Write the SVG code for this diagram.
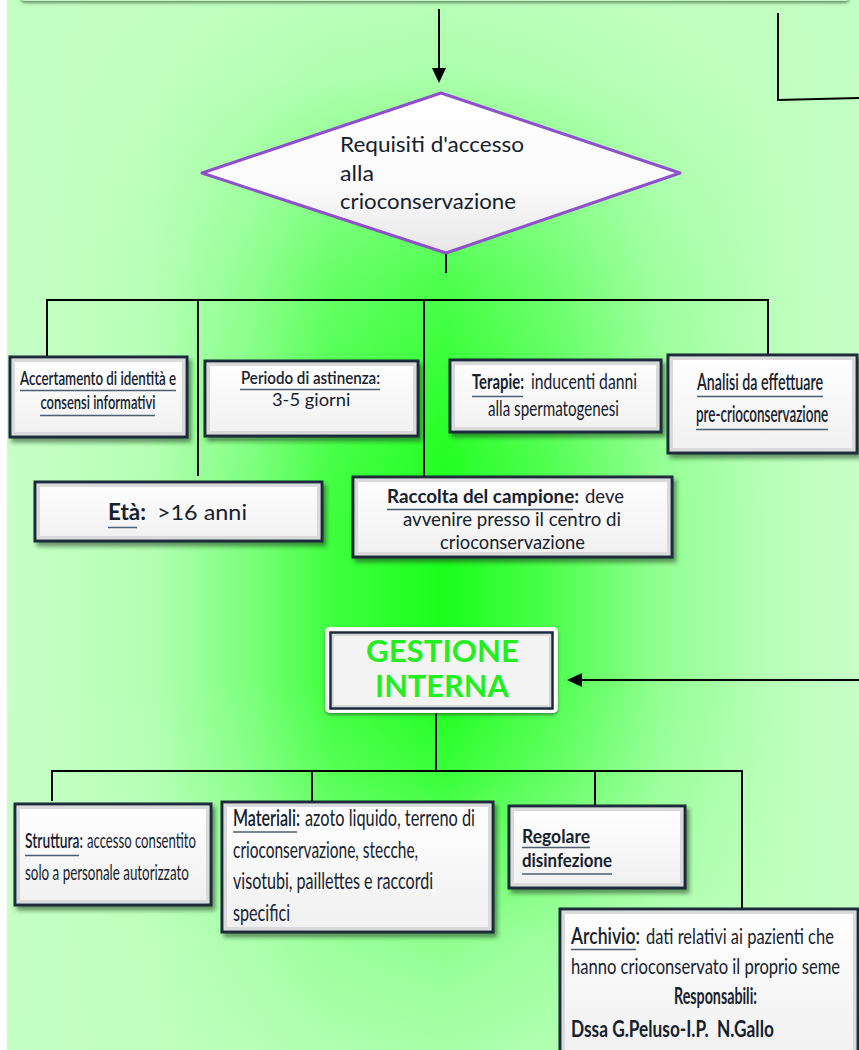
<svg xmlns="http://www.w3.org/2000/svg" width="859" height="1050" viewBox="0 0 859 1050">
<defs>
  <linearGradient id="hg" gradientUnits="userSpaceOnUse" x1="7" y1="0" x2="859" y2="0">
    <stop offset="0" stop-color="#c8ffc8"/>
    <stop offset="0.168" stop-color="#b4ffb4"/>
    <stop offset="0.285" stop-color="#7cff7c"/>
    <stop offset="0.379" stop-color="#40ff40"/>
    <stop offset="0.514" stop-color="#1aff1a"/>
    <stop offset="0.637" stop-color="#4cff4c"/>
    <stop offset="0.766" stop-color="#92ff92"/>
    <stop offset="0.896" stop-color="#b8ffb8"/>
    <stop offset="1" stop-color="#c8ffc8"/>
  </linearGradient>
  <linearGradient id="vg" gradientUnits="userSpaceOnUse" x1="0" y1="0" x2="0" y2="1050">
    <stop offset="0" stop-color="#c2ffc2" stop-opacity="0.95"/>
    <stop offset="0.076" stop-color="#c2ffc2" stop-opacity="0.85"/>
    <stop offset="0.171" stop-color="#c2ffc2" stop-opacity="0.55"/>
    <stop offset="0.267" stop-color="#c2ffc2" stop-opacity="0.3"/>
    <stop offset="0.4" stop-color="#c2ffc2" stop-opacity="0.1"/>
    <stop offset="0.495" stop-color="#c2ffc2" stop-opacity="0"/>
    <stop offset="0.648" stop-color="#c2ffc2" stop-opacity="0"/>
    <stop offset="0.743" stop-color="#c2ffc2" stop-opacity="0.2"/>
    <stop offset="0.895" stop-color="#c2ffc2" stop-opacity="0.7"/>
    <stop offset="1" stop-color="#c2ffc2" stop-opacity="0.85"/>
  </linearGradient>
  <linearGradient id="boxfill" x1="0" y1="0" x2="0" y2="1">
    <stop offset="0" stop-color="#ffffff"/>
    <stop offset="1" stop-color="#f0f0f0"/>
  </linearGradient>
  <linearGradient id="dfill" x1="0" y1="0" x2="0" y2="1">
    <stop offset="0" stop-color="#ffffff"/>
    <stop offset="0.6" stop-color="#fafafa"/>
    <stop offset="1" stop-color="#e6e6e6"/>
  </linearGradient>
  <filter id="sh" x="-10%" y="-10%" width="130%" height="140%">
    <feDropShadow dx="3" dy="4" stdDeviation="2" flood-color="#1d3a1d" flood-opacity="0.55"/>
  </filter>
  <filter id="sh2" x="-5%" y="-50%" width="110%" height="200%">
    <feDropShadow dx="0" dy="2" stdDeviation="1.5" flood-color="#2d4a2d" flood-opacity="0.6"/>
  </filter>
  <marker id="ah" viewBox="0 0 15 14" refX="12" refY="7" markerWidth="15" markerHeight="14" markerUnits="userSpaceOnUse" orient="auto">
    <path d="M0,0 L15,7 L0,14 z" fill="#000"/>
  </marker>
</defs>
<style>
  .box{fill:url(#boxfill);stroke:#1b2a3a;stroke-width:3;filter:url(#sh)}
  .bev{fill:none;stroke:#dadada;stroke-width:3}
  .t{font-family:Lato,'Liberation Sans',sans-serif;fill:#16212e}
  .b{font-weight:bold}
  .m{font-weight:600}
  .ul{stroke:#4b5e72;stroke-width:1.5}
  .c{fill:none;stroke:#000;stroke-width:2}
</style>

<rect x="0" y="0" width="859" height="1050" fill="#ffffff"/>
<rect x="7" y="0" width="852" height="1050" fill="url(#hg)"/>
<rect x="7" y="0" width="852" height="1050" fill="url(#vg)"/>

<g id="top-box">
  <rect x="21" y="-40" width="828" height="41" rx="4" fill="#c4f6c4" filter="url(#sh2)"/>
</g>

<g id="connectors">
  <line class="c" x1="439" y1="9" x2="439" y2="80" marker-end="url(#ah)"/>
  <polyline class="c" points="778,13 778,100 859,98"/>
  <line class="c" x1="446" y1="230" x2="446" y2="273"/>
  <polyline class="c" points="47,356 47,300 768,300 768,354"/>
  <line class="c" x1="198" y1="300" x2="198" y2="476"/>
  <line class="c" x1="424" y1="300" x2="424" y2="477"/>
  <line class="c" x1="859" y1="680" x2="570" y2="680" marker-end="url(#ah)"/>
  <line class="c" x1="436" y1="713" x2="436" y2="771"/>
  <polyline class="c" points="52,801 52,771 742,771 742,908"/>
  <line class="c" x1="312" y1="771" x2="312" y2="802"/>
  <line class="c" x1="595" y1="771" x2="595" y2="806"/>
</g>

<g id="requisiti">
  <polygon points="202,173 441,93 680,173 446,253" fill="url(#dfill)" stroke="#9050cc" stroke-width="3" stroke-linejoin="round"/>
  <text class="t" font-size="22" x="340" y="152" textLength="184" lengthAdjust="spacingAndGlyphs">Requisiti d'accesso</text>
  <text class="t" font-size="22" x="340" y="181" textLength="34" lengthAdjust="spacingAndGlyphs">alla</text>
  <text class="t" font-size="22" x="340" y="209" textLength="176" lengthAdjust="spacingAndGlyphs">crioconservazione</text>
</g>

<g id="accertamento">
  <rect class="box" x="10" y="357" width="177" height="80"/>
  <rect class="bev" x="13.5" y="360.5" width="170" height="73"/>
  <text class="t m" font-size="19" transform="translate(20 385) scale(0.632 1)" textLength="247" lengthAdjust="spacingAndGlyphs">Accertamento di identità e</text>
  <text class="t m" font-size="19" transform="translate(40.5 409) scale(0.605 1)" textLength="190" lengthAdjust="spacingAndGlyphs">consensi informativi</text>
  <line class="ul" x1="20" y1="390.5" x2="176" y2="390.5"/>
  <line class="ul" x1="40" y1="415.5" x2="155" y2="415.5"/>
</g>

<g id="periodo">
  <rect class="box" x="205" y="361" width="213" height="75"/>
  <rect class="bev" x="208.5" y="364.5" width="206" height="68"/>
  <text class="t m" font-size="17" transform="translate(241 384) scale(0.779 1)" textLength="178.5" lengthAdjust="spacingAndGlyphs">Periodo di astinenza:</text>
  <text class="t" font-size="17" transform="translate(272 406) scale(0.96 1)" textLength="81.6" lengthAdjust="spacingAndGlyphs">3-5 giorni</text>
  <line class="ul" x1="240" y1="389.5" x2="380" y2="389.5"/>
</g>

<g id="terapie">
  <rect class="box" x="450" y="360" width="211" height="72"/>
  <rect class="bev" x="453.5" y="363.5" width="204" height="65"/>
  <text class="t b" font-size="21" transform="translate(472 389) scale(0.584 1)" textLength="89" lengthAdjust="spacingAndGlyphs">Terapie:</text>
  <text class="t" font-size="21" transform="translate(531 389) scale(0.702 1)" textLength="151" lengthAdjust="spacingAndGlyphs">inducenti danni</text>
  <text class="t" font-size="21" transform="translate(488 416) scale(0.684 1)" textLength="191.5" lengthAdjust="spacingAndGlyphs">alla spermatogenesi</text>
  <line class="ul" x1="472" y1="396.5" x2="523" y2="396.5"/>
</g>

<g id="analisi">
  <rect class="box" x="668" y="355" width="189" height="98"/>
  <rect class="bev" x="671.5" y="358.5" width="182" height="91"/>
  <text class="t m" font-size="23" transform="translate(697 390) scale(0.522 1)" textLength="241.5" lengthAdjust="spacingAndGlyphs">Analisi da effettuare</text>
  <text class="t m" font-size="23" transform="translate(696 422) scale(0.547 1)" textLength="241.5" lengthAdjust="spacingAndGlyphs">pre-crioconservazione</text>
  <line class="ul" x1="697" y1="396.5" x2="823" y2="396.5"/>
  <line class="ul" x1="696" y1="429.5" x2="828" y2="429.5"/>
</g>

<g id="eta">
  <rect class="box" x="35" y="482" width="287" height="59"/>
  <rect class="bev" x="38.5" y="485.5" width="280" height="52"/>
  <text class="t b" font-size="22" transform="translate(108 520) scale(0.815 1)" textLength="46.6" lengthAdjust="spacingAndGlyphs">Età:</text>
  <text class="t" font-size="22" x="157" y="520" textLength="90" lengthAdjust="spacingAndGlyphs">&gt;16 anni</text>
  <line class="ul" x1="108" y1="527.5" x2="137" y2="527.5"/>
</g>

<g id="raccolta">
  <rect class="box" x="353" y="477" width="319" height="80"/>
  <rect class="bev" x="356.5" y="480.5" width="312" height="73"/>
  <text class="t b" font-size="19" transform="translate(387 503) scale(0.867 1)" textLength="221.5" lengthAdjust="spacingAndGlyphs">Raccolta del campione:</text>
  <text class="t" font-size="19" x="585" y="503" textLength="39" lengthAdjust="spacingAndGlyphs">deve</text>
  <text class="t" font-size="19" transform="translate(403 526) scale(0.855 1)" textLength="255" lengthAdjust="spacingAndGlyphs">avvenire presso il centro di</text>
  <text class="t" font-size="19" transform="translate(440 549) scale(0.935 1)" textLength="155" lengthAdjust="spacingAndGlyphs">crioconservazione</text>
  <line class="ul" x1="387" y1="509.5" x2="573" y2="509.5"/>
</g>

<g id="gestione">
  <rect x="325" y="627" width="233" height="86" rx="5" fill="#ffffff" filter="url(#sh2)"/>
  <rect x="330.5" y="632.5" width="222" height="76" fill="#f4f4f4" stroke="#1b2a3a" stroke-width="2.5"/>
  <rect x="333" y="635" width="217" height="71" fill="none" stroke="#d8d8d8" stroke-width="2"/>
  <text font-family="Lato,'Liberation Sans',sans-serif" font-weight="bold" font-size="30" fill="#22ee22" x="366" y="662" textLength="153" lengthAdjust="spacingAndGlyphs">GESTIONE</text>
  <text font-family="Lato,'Liberation Sans',sans-serif" font-weight="bold" font-size="30" fill="#22ee22" x="375" y="697" textLength="134" lengthAdjust="spacingAndGlyphs">INTERNA</text>
</g>

<g id="struttura">
  <rect class="box" x="15" y="804" width="196" height="101"/>
  <rect class="bev" x="18.5" y="807.5" width="189" height="94"/>
  <text class="t m" font-size="21" transform="translate(25 848) scale(0.552 1)" textLength="105" lengthAdjust="spacingAndGlyphs">Struttura:</text>
  <text class="t" font-size="21" transform="translate(87 848) scale(0.602 1)" textLength="181" lengthAdjust="spacingAndGlyphs">accesso consentito</text>
  <text class="t" font-size="21" transform="translate(25 880) scale(0.581 1)" textLength="282" lengthAdjust="spacingAndGlyphs">solo a personale autorizzato</text>
  <line class="ul" x1="25" y1="855.5" x2="79" y2="855.5"/>
</g>

<g id="materiali">
  <rect class="box" x="222" y="802" width="271" height="130"/>
  <rect class="bev" x="225.5" y="805.5" width="264" height="123"/>
  <text class="t m" font-size="23" transform="translate(233 826) scale(0.583 1)" textLength="115" lengthAdjust="spacingAndGlyphs">Materiali:</text>
  <text class="t" font-size="23" transform="translate(305 826) scale(0.616 1)" textLength="276" lengthAdjust="spacingAndGlyphs">azoto liquido, terreno di</text>
  <text class="t" font-size="23" transform="translate(233 858) scale(0.621 1)" textLength="298" lengthAdjust="spacingAndGlyphs">crioconservazione, stecche,</text>
  <text class="t" font-size="23" transform="translate(233 889) scale(0.585 1)" textLength="342" lengthAdjust="spacingAndGlyphs">visotubi, paillettes e raccordi</text>
  <text class="t" font-size="23" transform="translate(233 921) scale(0.576 1)" textLength="99" lengthAdjust="spacingAndGlyphs">specifici</text>
  <line class="ul" x1="233" y1="832" x2="297" y2="832"/>
</g>

<g id="regolare">
  <rect class="box" x="509" y="806" width="176" height="82"/>
  <rect class="bev" x="512.5" y="809.5" width="169" height="75"/>
  <text class="t b" font-size="18" transform="translate(522 843) scale(0.895 1)" textLength="76" lengthAdjust="spacingAndGlyphs">Regolare</text>
  <text class="t b" font-size="18" transform="translate(522 867) scale(0.786 1)" textLength="114.5" lengthAdjust="spacingAndGlyphs">disinfezione</text>
  <line class="ul" x1="522" y1="847.5" x2="590" y2="847.5"/>
  <line class="ul" x1="522" y1="874" x2="612" y2="874"/>
</g>

<g id="archivio">
  <rect class="box" x="560" y="909" width="298" height="150"/>
  <rect class="bev" x="563.5" y="912.5" width="291" height="143"/>
  <text class="t m" font-size="22" transform="translate(571 944) scale(0.697 1)" textLength="99" lengthAdjust="spacingAndGlyphs">Archivio:</text>
  <text class="t" font-size="22" transform="translate(646 944) scale(0.614 1)" textLength="306" lengthAdjust="spacingAndGlyphs">dati relativi ai pazienti che</text>
  <text class="t" font-size="22" transform="translate(571 974) scale(0.708 1)" textLength="380" lengthAdjust="spacingAndGlyphs">hanno crioconservato il proprio seme</text>
  <text class="t b" font-size="22" transform="translate(674 1004) scale(0.547 1)" textLength="151.6" lengthAdjust="spacingAndGlyphs">Responsabili:</text>
  <text class="t b" font-size="22" transform="translate(571 1037) scale(0.644 1)" textLength="315" lengthAdjust="spacingAndGlyphs" xml:space="preserve">Dssa G.Peluso-I.P.  N.Gallo</text>
  <line class="ul" x1="571" y1="949.5" x2="636" y2="949.5"/>
</g>
</svg>
